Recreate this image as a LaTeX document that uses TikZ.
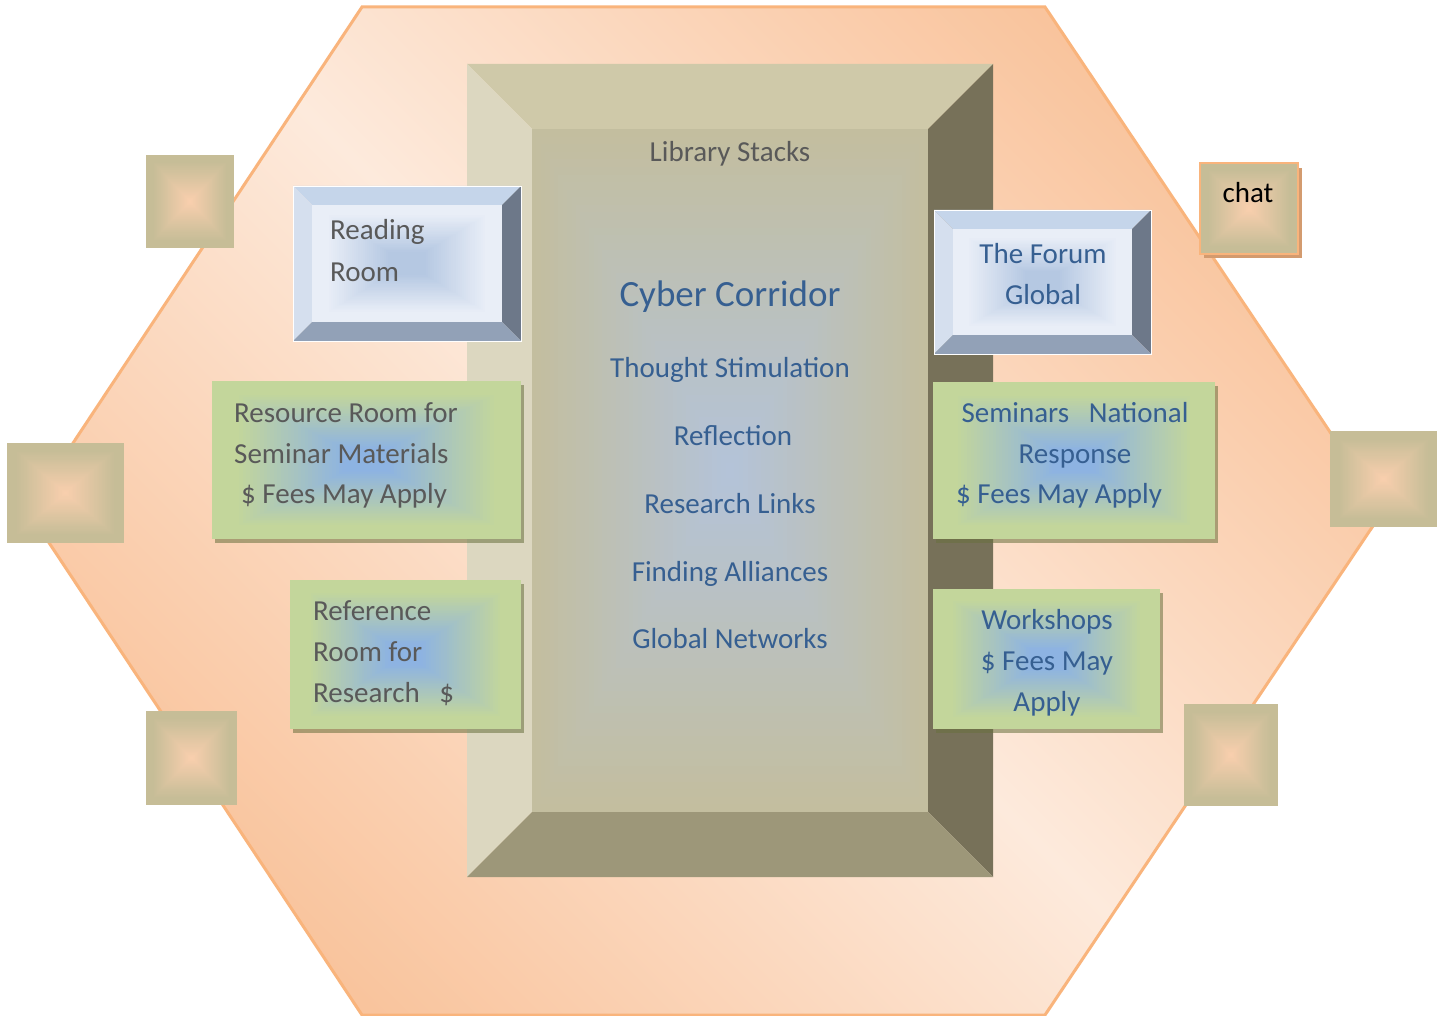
\documentclass[tikz,border=0pt]{standalone}
\usepackage{fontspec}
\setmainfont{Carlito}
\definecolor{hexlight}{HTML}{FDEADC}
\definecolor{hexdark}{HTML}{F9C49D}
\definecolor{hexline}{HTML}{F9B47C}
\definecolor{mtop}{HTML}{CFC9A9}
\definecolor{mleft}{HTML}{DCD7C0}
\definecolor{mright}{HTML}{777159}
\definecolor{mbot}{HTML}{9D9779}
\definecolor{mface}{HTML}{C3BE9F}
\definecolor{mcenter}{HTML}{B3C3DA}
\definecolor{btop}{HTML}{C5D5EA}
\definecolor{bleft}{HTML}{D5DFEE}
\definecolor{bright}{HTML}{6D7889}
\definecolor{bbot}{HTML}{92A1B7}
\definecolor{bface}{HTML}{E9EEF7}
\definecolor{bcenter}{HTML}{B5C8E2}
\definecolor{gface}{HTML}{C3D69B}
\definecolor{gcenter}{HTML}{8DB3E2}
\definecolor{gshadow}{HTML}{69703E}
\definecolor{sqout}{HTML}{C6BD97}
\definecolor{sqin}{HTML}{FACFAE}
\definecolor{chatshadow}{HTML}{D39B6F}
\definecolor{txtgray}{HTML}{595959}
\definecolor{txtblue}{HTML}{365F91}
% rectangular (path) gradient: x1 y1 x2 y2 outer inner start end
\newcommand\rgrad[8]{%
  \foreach \i in {0,...,44}{%
    \pgfmathsetmacro\f{\i/45}%
    \pgfmathtruncatemacro\p{min(100,max(0,(\f-#7)/(#8-#7)*100))}%
    \fill[#6!\p!#5] ({#1+(#3-#1)/2*\f},{#2+(#4-#2)/2*\f}) rectangle ({#3-(#3-#1)/2*\f},{#4-(#4-#2)/2*\f});
  }}
% bevel frame: x1 y1 x2 y2 width top left right bottom
\newcommand\bevelframe[9]{%
  \fill[#6] (#1,#2) -- (#3,#2) -- ({#3-#5},{#2+#5}) -- ({#1+#5},{#2+#5}) -- cycle;
  \fill[#7] (#1,#2) -- ({#1+#5},{#2+#5}) -- ({#1+#5},{#4-#5}) -- (#1,#4) -- cycle;
  \fill[#8] (#3,#2) -- (#3,#4) -- ({#3-#5},{#4-#5}) -- ({#3-#5},{#2+#5}) -- cycle;
  \fill[#9] (#1,#4) -- (#3,#4) -- ({#3-#5},{#4-#5}) -- ({#1+#5},{#4-#5}) -- cycle;}
\tikzset{
  body/.style={inner sep=0pt, font=\fontsize{29}{35}\selectfont},
  gtxt/.style={body, text=txtgray},
  btxt/.style={body, text=txtblue},
  big/.style={inner sep=0pt, text=txtblue, font=\fontsize{37}{44}\selectfont},
  gshad/.style={fill=gshadow, fill opacity=0.55},
}
\begin{document}
\begin{tikzpicture}[x=1pt,y=-1pt]
\useasboundingbox (0,0) rectangle (1445,1016);
\fill[white] (0,0) rectangle (1445,1016);
% hexagon
\shade[left color=hexdark, right color=hexdark, middle color=hexlight, shading angle=-45]
  (362,7) -- (1045,7) -- (1383,511) -- (1045,1015) -- (362,1015) -- (28,511) -- cycle;
\draw[hexline, line width=3pt, line join=miter]
  (362,7) -- (1045,7) -- (1383,511) -- (1045,1015) -- (362,1015) -- (28,511) -- cycle;
% main library box
\bevelframe{467}{64}{993}{877}{65}{mtop}{mleft}{mright}{mbot}
\rgrad{532}{129}{928}{812}{mface}{mcenter}{0}{1}
% small squares
\rgrad{146}{155}{234}{248}{sqout}{sqin}{0.15}{1}
\rgrad{7}{443}{124}{543}{sqout}{sqin}{0.15}{1}
\rgrad{146}{711}{237}{805}{sqout}{sqin}{0.15}{1}
\rgrad{1184}{704}{1278}{806}{sqout}{sqin}{0.15}{1}
\rgrad{1330}{431}{1437}{527}{sqout}{sqin}{0.15}{1}
% chat square
\fill[chatshadow] (1204,168) rectangle (1302,258);
\rgrad{1200}{163}{1298}{254}{sqout}{sqin}{0.15}{1}
\draw[hexline, line width=2pt] (1200,163) rectangle (1298,254);
% reading room
\bevelframe{293}{186}{521}{341}{19}{btop}{bleft}{bright}{bbot}
\rgrad{312}{205}{502}{322}{bface}{bcenter}{0.15}{0.8}
\draw[white, line width=0.8pt] (293,186) rectangle (521,341);
% forum
\bevelframe{934}{210}{1151}{354}{19}{btop}{bleft}{bright}{bbot}
\rgrad{953}{229}{1132}{335}{bface}{bcenter}{0.15}{0.8}
\draw[white, line width=0.8pt] (934,210) rectangle (1151,354);
% green boxes
\fill[gshad] (215,385) rectangle (524,543);
\rgrad{212}{381}{521}{539}{gface}{gcenter}{0.15}{0.85}
\fill[gshad] (293,584) rectangle (524,733);
\rgrad{290}{580}{521}{729}{gface}{gcenter}{0.15}{0.85}
\fill[gshad] (936,386) rectangle (1218,543);
\rgrad{933}{382}{1215}{539}{gface}{gcenter}{0.15}{0.85}
\fill[gshad] (936,593) rectangle (1163,733);
\rgrad{933}{589}{1160}{729}{gface}{gcenter}{0.15}{0.85}
% texts
\node[gtxt, anchor=base] (libstacks) at (730,162) {Library Stacks};
\node[big, anchor=base] (cyber) at (730,306) {Cyber Corridor};
\node[btxt, anchor=base] (thought) at (730,377) {Thought Stimulation};
\node[btxt, anchor=base] (reflect) at (733,445) {Reflection};
\node[btxt, anchor=base] (links) at (730,513) {Research Links};
\node[btxt, anchor=base] (alliances) at (730,581) {Finding Alliances};
\node[btxt, anchor=base] (networks) at (730,648) {Global Networks};
\node[gtxt, anchor=base west] (read1) at (330,240) {Reading};
\node[gtxt, anchor=base west] (read2) at (330,282) {Room};
\node[btxt, anchor=base] (forum1) at (1043,264) {The Forum};
\node[btxt, anchor=base] (forum2) at (1043,305) {Global};
\node[body, anchor=base, text=black] (chat) at (1248,203) {chat};
\node[gtxt, anchor=base west] (res1) at (234,422) {Resource Room for};
\node[gtxt, anchor=base west] (res2) at (234,463) {Seminar Materials};
\node[gtxt, anchor=base west] (res3) at (241,503) {\$ Fees May Apply};
\node[btxt, anchor=base] (sem1) at (1075,422) {Seminars\ \ \ National};
\node[btxt, anchor=base] (sem2) at (1075,463) {Response};
\node[btxt, anchor=base west] (sem3) at (956,503) {\$ Fees May Apply};
\node[gtxt, anchor=base west] (ref1) at (313,620) {Reference};
\node[gtxt, anchor=base west] (ref2) at (313,661) {Room for};
\node[gtxt, anchor=base west] (ref3) at (313,702) {Research\ \ \ \$};
\node[btxt, anchor=base] (work1) at (1047,629) {Workshops};
\node[btxt, anchor=base] (work2) at (1047,670) {\$ Fees May};
\node[btxt, anchor=base] (work3) at (1047,711) {Apply};
\end{tikzpicture}
\end{document}
